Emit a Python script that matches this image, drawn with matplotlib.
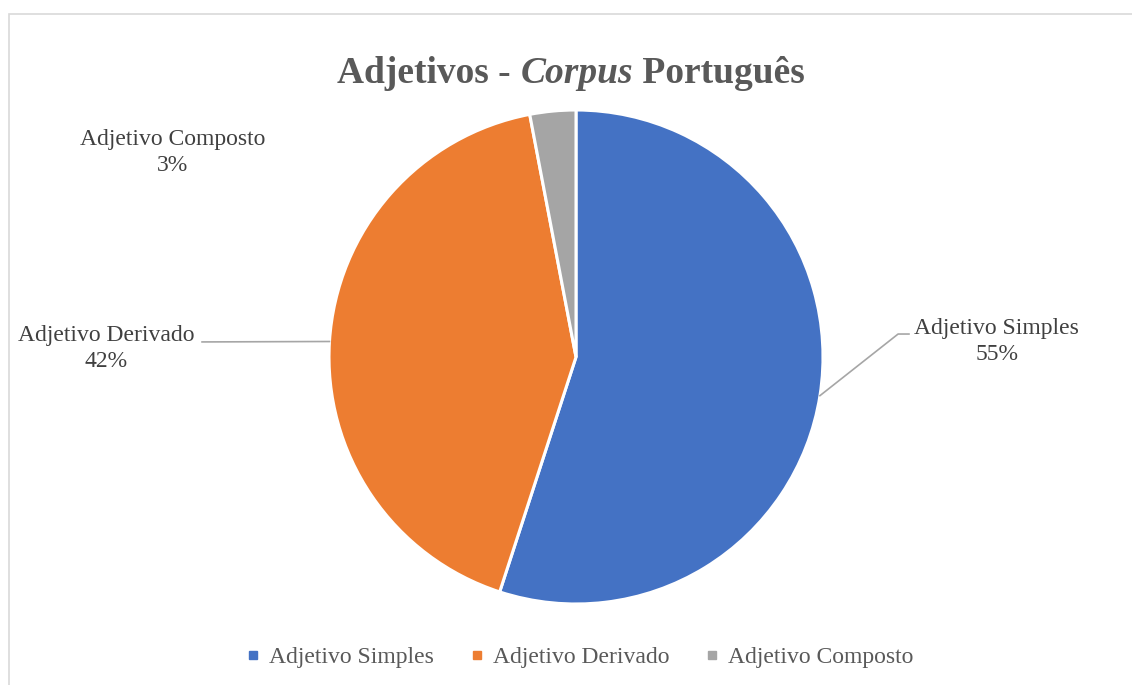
import numpy as np
import matplotlib
matplotlib.use('Agg')
from matplotlib import pyplot as plt
from matplotlib.patches import Rectangle
from matplotlib.lines import Line2D

# data
categorias = ['Adjetivo Simples', 'Adjetivo Derivado', 'Adjetivo Composto']
percentagens = [55, 42, 3]
cores = ['#4472C4', '#ED7D31', '#A5A5A5']

plt.rcParams['font.family'] = ['Liberation Serif', 'DejaVu Serif']

W, H = 1132, 685
fig = plt.figure(figsize=(W / 100, H / 100), dpi=100)

# chart frame (runs off right / bottom edge)
fig.patches.append(Rectangle((8.5 / W, -0.05), 1.2, (H - 13.5) / H + 0.05,
                             transform=fig.transFigure, fill=False,
                             edgecolor='#D9D9D9', lw=1.2))

# pie axes: centre (576, 357), radius 247 px
cx, cy, r = 576, 357, 247
ax = fig.add_axes([(cx - r) / W, (H - cy - r) / H, 2 * r / W, 2 * r / H])
wedges, _ = ax.pie(percentagens, colors=cores, startangle=90, counterclock=False,
                   radius=1, wedgeprops=dict(edgecolor='white', linewidth=2.2))
ax.set_xlim(-1, 1)
ax.set_ylim(-1, 1)
ax.set_aspect('equal')
ax.axis('off')

txt_color = '#404040'
fs = 17
ls = 1.3

def mid_point(w):
    a = np.deg2rad((w.theta1 + w.theta2) / 2)
    return np.cos(a), np.sin(a)

# Simples label + leader
mx, my = mid_point(wedges[0])
ax.add_line(Line2D([mx, 1.304, 1.348], [my, 0.093, 0.093], color='#A6A6A6', lw=1.2, clip_on=False))
ax.text(1.704, 0.063, '%s\n%d%%' % (categorias[0], percentagens[0]), ha='center', va='center',
        fontsize=fs, color=txt_color, linespacing=ls)

# Derivado label + leader
mx, my = mid_point(wedges[1])
ax.add_line(Line2D([mx, -1.514], [my, 0.061], color='#A6A6A6', lw=1.2, clip_on=False))
ax.text(-1.903, 0.034, '%s\n%d%%' % (categorias[1], percentagens[1]), ha='center', va='center',
        fontsize=fs, color=txt_color, linespacing=ls)

# Composto label
ax.text(-1.632, 0.828, '%s\n%d%%' % (categorias[2], percentagens[2]), ha='center', va='center',
        fontsize=fs, color=txt_color, linespacing=ls)

# title with italic part
tcol = '#595959'
tfs = 27
parts = [('Adjetivos - ', 'normal'), ('Corpus', 'italic'), (' Português', 'normal')]
fig.canvas.draw()
rend = fig.canvas.get_renderer()
objs = []
for s, st in parts:
    t = fig.text(0, 1 - 83 / H, s, fontsize=tfs, fontweight='bold', fontstyle=st,
                 color=tcol, va='baseline', ha='left')
    objs.append(t)
widths = [t.get_window_extent(rend).width for t in objs]
x = 571 - sum(widths) / 2
for t, w in zip(objs, widths):
    t.set_x(x / W)
    x += w

# legend
handles = [Line2D([], [], marker='s', linestyle='none', markersize=6,
                  markerfacecolor=c, markeredgecolor=c) for c in cores]
fig.legend(handles, categorias, loc='center', bbox_to_anchor=(0.512, 1 - 657 / H),
           ncol=3, frameon=False, fontsize=17, labelcolor='#595959',
           handletextpad=0.38, columnspacing=1.5, handlelength=0.6)

fig.savefig('out.png', dpi=100)
